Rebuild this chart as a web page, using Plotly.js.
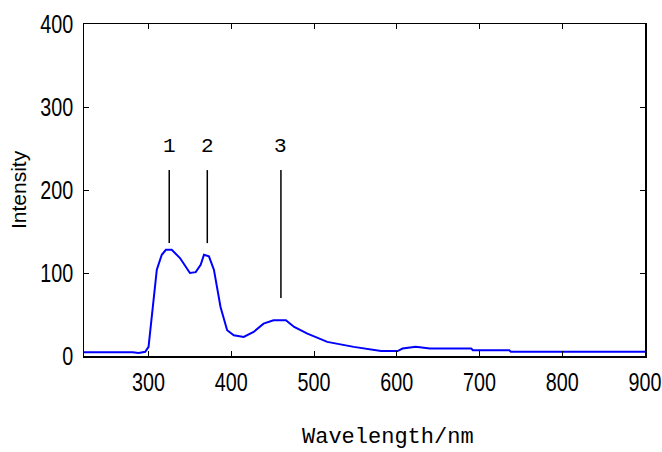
<!DOCTYPE html>
<html>
<head>
<meta charset="utf-8">
<script src="https://cdn.plot.ly/plotly-3.0.1.min.js"></script>
<style>html,body{margin:0;padding:0;background:#fff;}#chart{width:662px;height:452px;}</style>
</head>
<body>
<div id="chart"></div>
<script>
// Spectrum
const wavelength = [222, 260, 281, 288, 296, 300, 304, 310, 316, 321, 328, 338, 350, 357, 363, 367, 373, 379, 387, 395, 403, 415, 427, 439, 451, 466, 476, 492, 516, 548, 581, 601, 607, 623, 640, 690, 692, 736, 738, 800, 900];
const intensity  = [4.5, 4.5, 4.5, 3.5, 5, 11, 47, 104, 122, 128, 128, 118, 100, 101, 110, 122, 120, 104, 59, 31, 25, 23, 29, 39, 43, 43, 35, 27, 17, 11, 6, 6, 9, 11, 9, 9, 7, 7, 5, 5, 5];

// Peak markers
const peakLabels = ['1', '2', '3'];
const peakX = [325, 371, 460];
const markerTop = [224, 224, 224];
const markerBottom = [136, 136, 70];
const labelY = [252, 252, 252];

const xTicks = [300, 400, 500, 600, 700, 800, 900];
const yTicks = [0, 100, 200, 300, 400];

const tickFont = {family: '"Liberation Sans", Arial, sans-serif', size: 26, color: '#000'};
const monoFont = '"Liberation Mono", "DejaVu Sans Mono", monospace';

const shapes = peakX.map((x, i) => ({
  type: 'line', xref: 'x', yref: 'y',
  x0: x, x1: x, y0: markerBottom[i], y1: markerTop[i],
  line: {color: '#000', width: 1.5}
}));
const annotations = peakX.map((x, i) => ({
  x: x, y: labelY[i], xref: 'x', yref: 'y', text: peakLabels[i], showarrow: false,
  font: {family: monoFont, size: 21, color: '#000'}
}));
annotations.push({
  text: 'Wavelength/nm', xref: 'paper', yref: 'paper', x: 0.542, y: 0,
  xanchor: 'center', yanchor: 'middle', yshift: -81, showarrow: false,
  font: {family: monoFont, size: 22, color: '#000'}
});
annotations.push({
  text: 'Intensity', xref: 'paper', yref: 'paper', x: 0, y: 0.5,
  xanchor: 'center', yanchor: 'middle', xshift: -66, textangle: -90, showarrow: false,
  font: {family: '"Liberation Sans", Arial, sans-serif', size: 21, color: '#000'}
});

const trace = {
  x: wavelength, y: intensity, type: 'scatter', mode: 'lines',
  line: {color: '#0000ff', width: 2}, hoverinfo: 'skip'
};

const axisCommon = {
  ticks: 'inside', ticklen: 5, tickwidth: 1, tickcolor: '#000',
  showline: true, linecolor: '#000', linewidth: 1.5, mirror: 'ticks',
  showgrid: false, zeroline: false, tickfont: tickFont, ticklabeloverflow: 'allow'
};

const layout = {
  width: 662, height: 452,
  margin: {l: 84, r: 17, t: 24, b: 96},
  paper_bgcolor: '#fff', plot_bgcolor: '#fff',
  showlegend: false,
  xaxis: Object.assign({}, axisCommon, {range: [222, 900], tickvals: xTicks, ticktext: xTicks.map(String), ticklabelstandoff: 2}),
  yaxis: Object.assign({}, axisCommon, {range: [0, 400], tickvals: yTicks, ticktext: yTicks.map(String), ticklabelstandoff: 4}),
  shapes: shapes,
  annotations: annotations
};

Plotly.newPlot('chart', [trace], layout, {displayModeBar: false, staticPlot: true}).then(gd => {
  // condense tick labels horizontally (narrow sans look of the original)
  gd.querySelectorAll('.xtick text, .ytick text').forEach(t => {
    const x = parseFloat(t.getAttribute('x')) || 0;
    const y = parseFloat(t.getAttribute('y')) || 0;
    const tr = t.getAttribute('transform') || '';
    t.setAttribute('transform', tr + ' translate(' + x + ',' + y + ') scale(0.76,1) translate(' + (-x) + ',' + (-y) + ')');
  });
});
</script>
</body>
</html>
